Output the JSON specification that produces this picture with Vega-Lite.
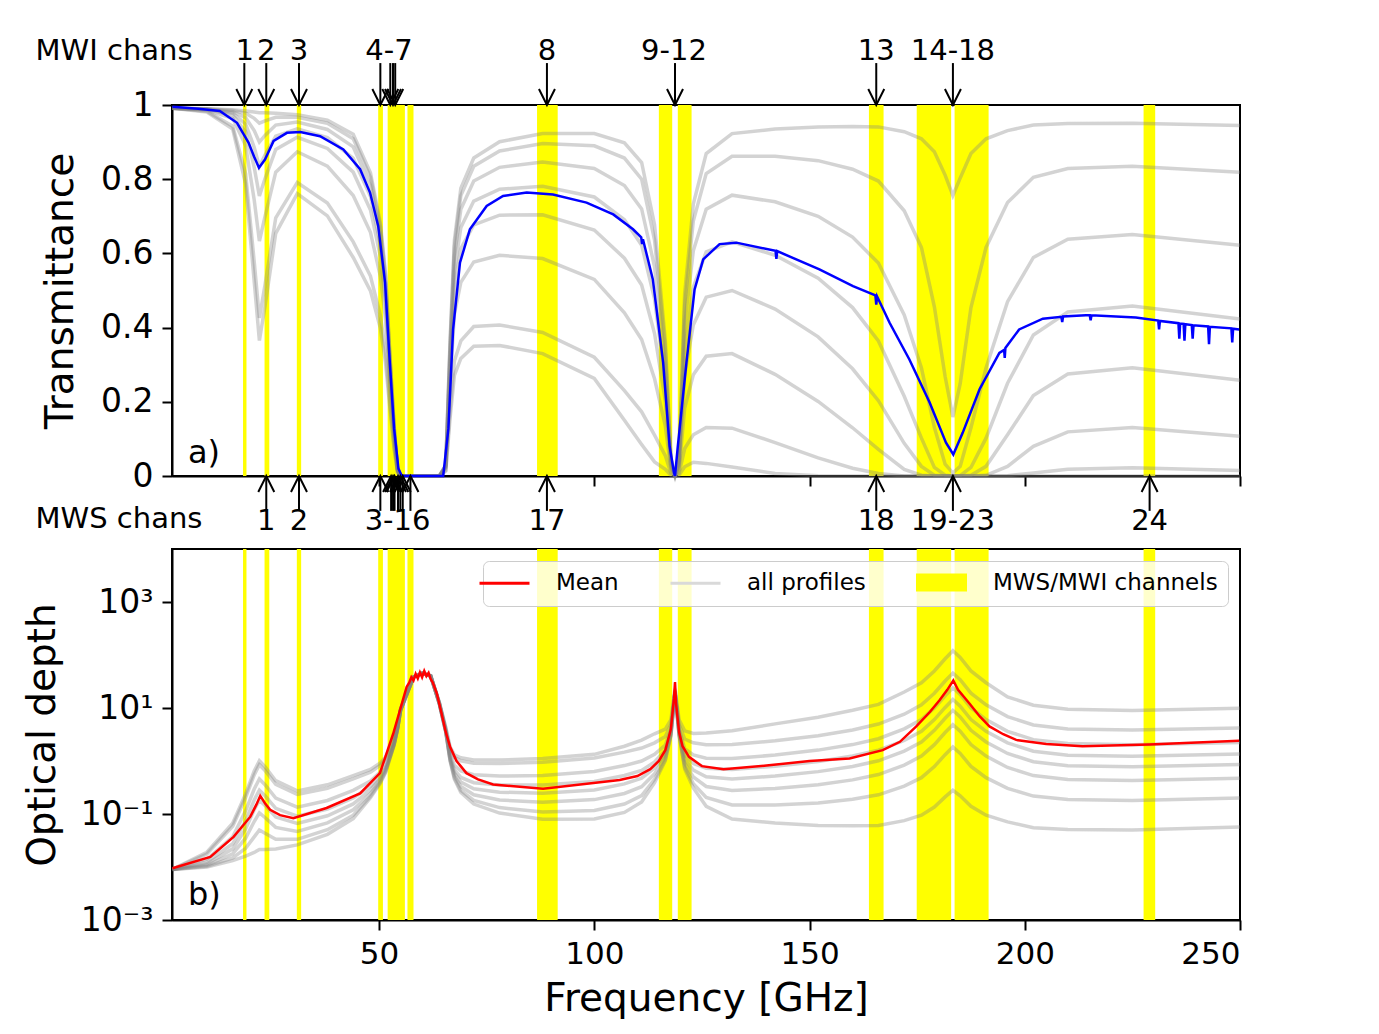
{
"$schema": "https://vega.github.io/schema/vega-lite/v6.json",
"background": "white",
"padding": {"left": 22, "top": 35, "right": 10, "bottom": 10},
"config": {
  "font": "DejaVu Sans",
  "view": {"stroke": "black", "strokeWidth": 2},
  "axis": {"domainColor": "black", "domainWidth": 2, "tickColor": "black", "tickWidth": 2, "tickSize": 10, "labelFontSize": 31, "labelColor": "black", "labelPadding": 9, "titleFontSize": 39, "titleFontWeight": "normal", "titleColor": "black", "grid": false},
  "legend": {"orient": "top-right", "offset": 12, "direction": "horizontal", "columns": 3, "labelFontSize": 23, "labelColor": "black", "labelLimit": 500, "symbolSize": 400, "symbolStrokeWidth": 3, "fillColor": "rgba(255,255,255,0.8)", "strokeColor": "#cccccc", "cornerRadius": 6, "padding": 10, "columnPadding": 45, "labelOffset": 40}
},
"resolve": {"legend": {"shape": "independent", "fill": "independent", "stroke": "independent"}},
"datasets": {
  "bands": [
    {"f": 18.4, "f2": 19.2}, {"f": 23.4, "f2": 24.5}, {"f": 30.9, "f2": 31.9}, {"f": 49.8, "f2": 50.9},
    {"f": 52.0, "f2": 56.0}, {"f": 56.6, "f2": 58.0}, {"f": 86.7, "f2": 91.5}, {"f": 115.0, "f2": 118.1},
    {"f": 119.4, "f2": 122.6}, {"f": 163.8, "f2": 167.2}, {"f": 174.9, "f2": 182.9}, {"f": 183.7, "f2": 191.6},
    {"f": 227.6, "f2": 230.3}
  ],
  "mwi": [{"f": 18.7}, {"f": 23.8}, {"f": 31.4}, {"f": 50.3}, {"f": 52.61}, {"f": 53.24}, {"f": 53.75}, {"f": 89.0}, {"f": 118.75}, {"f": 165.5}, {"f": 183.31}],
  "mwi_lab": [{"f": 18.8, "lab": "1"}, {"f": 23.8, "lab": "2"}, {"f": 31.4, "lab": "3"}, {"f": 52.3, "lab": "4-7"}, {"f": 89.0, "lab": "8"}, {"f": 118.5, "lab": "9-12"}, {"f": 165.5, "lab": "13"}, {"f": 183.3, "lab": "14-18"}],
  "mws": [{"f": 23.8}, {"f": 31.4}, {"f": 50.3}, {"f": 52.8}, {"f": 53.246}, {"f": 53.596}, {"f": 54.4}, {"f": 54.94}, {"f": 55.5}, {"f": 57.29}, {"f": 89.0}, {"f": 165.5}, {"f": 183.31}, {"f": 229.0}],
  "mws_lab": [{"f": 23.8, "lab": "1"}, {"f": 31.4, "lab": "2"}, {"f": 54.3, "lab": "3-16"}, {"f": 89.0, "lab": "17"}, {"f": 165.5, "lab": "18"}, {"f": 183.3, "lab": "19-23"}, {"f": 229.0, "lab": "24"}],
  "blue": [
    {"f": 2, "t": 0.995}, {"f": 8, "t": 0.99}, {"f": 13, "t": 0.984}, {"f": 17, "t": 0.952}, {"f": 19.7, "t": 0.898}, {"f": 21, "t": 0.86}, {"f": 22.1, "t": 0.831}, {"f": 23.5, "t": 0.853}, {"f": 25.5, "t": 0.903}, {"f": 28.6, "t": 0.925}, {"f": 31.7, "t": 0.927}, {"f": 36.3, "t": 0.916}, {"f": 41.7, "t": 0.88}, {"f": 45.6, "t": 0.827}, {"f": 47.9, "t": 0.764}, {"f": 49.8, "t": 0.674}, {"f": 51.4, "t": 0.521}, {"f": 52.5, "t": 0.305}, {"f": 53.5, "t": 0.127}, {"f": 54.5, "t": 0.02}, {"f": 55.3, "t": 0.0}, {"f": 64.9, "t": 0.0}, {"f": 66.1, "t": 0.127}, {"f": 67.2, "t": 0.395}, {"f": 68.8, "t": 0.575}, {"f": 71.1, "t": 0.665}, {"f": 75, "t": 0.728}, {"f": 78.8, "t": 0.755}, {"f": 84.3, "t": 0.764}, {"f": 90.4, "t": 0.759}, {"f": 98.2, "t": 0.737}, {"f": 104.4, "t": 0.705}, {"f": 109, "t": 0.665}, {"f": 110.9, "t": 0.643}, {"f": 111.1, "t": 0.625}, {"f": 111.3, "t": 0.638}, {"f": 113.6, "t": 0.53}, {"f": 116, "t": 0.305}, {"f": 117.5, "t": 0.08}, {"f": 118.5, "t": 0.01}, {"f": 118.75, "t": 0.0}, {"f": 119.4, "t": 0.08}, {"f": 121.4, "t": 0.305}, {"f": 123.3, "t": 0.503}, {"f": 125.3, "t": 0.584}, {"f": 129.1, "t": 0.625}, {"f": 133, "t": 0.629}, {"f": 142.1, "t": 0.607}, {"f": 142.3, "t": 0.585}, {"f": 142.5, "t": 0.606}, {"f": 152.3, "t": 0.557}, {"f": 160.1, "t": 0.512}, {"f": 165.3, "t": 0.487}, {"f": 165.5, "t": 0.462}, {"f": 165.7, "t": 0.484}, {"f": 168.6, "t": 0.413}, {"f": 173.2, "t": 0.314}, {"f": 177.9, "t": 0.198}, {"f": 181.7, "t": 0.09}, {"f": 183.4, "t": 0.058}, {"f": 185.6, "t": 0.117}, {"f": 189.5, "t": 0.234}, {"f": 194.1, "t": 0.332}, {"f": 195.2, "t": 0.34}, {"f": 195.35, "t": 0.318}, {"f": 195.5, "t": 0.345}, {"f": 198.7, "t": 0.395}, {"f": 204.2, "t": 0.424}, {"f": 208.5, "t": 0.429}, {"f": 208.7, "t": 0.415}, {"f": 208.9, "t": 0.43}, {"f": 214.2, "t": 0.433}, {"f": 215.1, "t": 0.433}, {"f": 215.3, "t": 0.42}, {"f": 215.5, "t": 0.433}, {"f": 225.8, "t": 0.427}, {"f": 231.0, "t": 0.419}, {"f": 231.2, "t": 0.395}, {"f": 231.4, "t": 0.418}, {"f": 235.7, "t": 0.412}, {"f": 235.9, "t": 0.37}, {"f": 236.1, "t": 0.411}, {"f": 236.9, "t": 0.41}, {"f": 237.1, "t": 0.365}, {"f": 237.3, "t": 0.409}, {"f": 238.8, "t": 0.407}, {"f": 239.0, "t": 0.37}, {"f": 239.2, "t": 0.406}, {"f": 242.6, "t": 0.403}, {"f": 242.8, "t": 0.355}, {"f": 243.0, "t": 0.402}, {"f": 248.0, "t": 0.398}, {"f": 248.2, "t": 0.36}, {"f": 248.4, "t": 0.397}, {"f": 249.8, "t": 0.395}
  ],
  "red": [
    {"f": 2, "d": 0.0095}, {"f": 10.8, "d": 0.0155}, {"f": 16.2, "d": 0.037}, {"f": 20.1, "d": 0.089}, {"f": 21.5, "d": 0.15}, {"f": 22.4, "d": 0.22}, {"f": 23.5, "d": 0.16}, {"f": 24.7, "d": 0.12}, {"f": 27, "d": 0.095}, {"f": 30.1, "d": 0.083}, {"f": 37.8, "d": 0.13}, {"f": 45.6, "d": 0.245}, {"f": 50.2, "d": 0.59}, {"f": 53.3, "d": 3.3}, {"f": 55, "d": 10}, {"f": 56.4, "d": 25}, {"f": 57, "d": 30}, {"f": 57.5, "d": 38}, {"f": 58, "d": 33}, {"f": 58.5, "d": 44}, {"f": 59, "d": 36}, {"f": 59.5, "d": 47}, {"f": 60, "d": 38}, {"f": 60.5, "d": 50}, {"f": 61, "d": 40}, {"f": 61.5, "d": 46}, {"f": 62, "d": 35}, {"f": 62.5, "d": 30}, {"f": 63.4, "d": 19}, {"f": 64.5, "d": 8}, {"f": 65.5, "d": 3.5}, {"f": 66.5, "d": 1.86}, {"f": 68, "d": 1.0}, {"f": 70.3, "d": 0.59}, {"f": 73, "d": 0.45}, {"f": 76.5, "d": 0.36}, {"f": 88.1, "d": 0.3}, {"f": 105.9, "d": 0.44}, {"f": 110, "d": 0.52}, {"f": 113, "d": 0.7}, {"f": 115, "d": 1.0}, {"f": 116.5, "d": 1.6}, {"f": 117.8, "d": 4}, {"f": 118.5, "d": 15}, {"f": 118.75, "d": 31}, {"f": 119, "d": 12}, {"f": 119.7, "d": 3.5}, {"f": 120.5, "d": 1.9}, {"f": 122, "d": 1.2}, {"f": 125, "d": 0.8}, {"f": 130, "d": 0.7}, {"f": 140, "d": 0.82}, {"f": 150, "d": 1.0}, {"f": 159.3, "d": 1.12}, {"f": 167, "d": 1.6}, {"f": 171, "d": 2.3}, {"f": 174.8, "d": 4.5}, {"f": 178, "d": 8.5}, {"f": 180.2, "d": 14}, {"f": 182, "d": 22}, {"f": 183.4, "d": 33}, {"f": 184.5, "d": 22}, {"f": 187.2, "d": 12}, {"f": 189.5, "d": 7}, {"f": 191.8, "d": 4.5}, {"f": 195, "d": 3.2}, {"f": 198, "d": 2.5}, {"f": 205, "d": 2.1}, {"f": 213.4, "d": 1.9}, {"f": 228.9, "d": 2.05}, {"f": 249.8, "d": 2.4}
  ],
  "legend": [{"series": "Mean", "f": 100, "d": 1e-9}, {"series": "all profiles", "f": 100, "d": 1e-9}, {"series": "MWS/MWI channels", "f": 100, "d": 1e-9}],
  "prof": [
{"f":2,"p":1,"t":0.991,"d":0.009},{"f":2,"p":2,"t":0.991,"d":0.009},{"f":2,"p":3,"t":0.991,"d":0.009},{"f":2,"p":4,"t":0.991,"d":0.009},{"f":2,"p":5,"t":0.991,"d":0.009},{"f":2,"p":6,"t":0.991,"d":0.009},{"f":2,"p":7,"t":0.991,"d":0.009},{"f":2,"p":8,"t":0.991,"d":0.009},
{"f":10,"p":1,"t":0.99,"d":0.01},{"f":10,"p":2,"t":0.99,"d":0.0103},{"f":10,"p":3,"t":0.989,"d":0.0108},{"f":10,"p":4,"t":0.989,"d":0.0115},{"f":10,"p":5,"t":0.988,"d":0.0124},{"f":10,"p":6,"t":0.986,"d":0.014},{"f":10,"p":7,"t":0.983,"d":0.0176},{"f":10,"p":8,"t":0.981,"d":0.019},
{"f":16,"p":1,"t":0.987,"d":0.0132},{"f":16,"p":2,"t":0.985,"d":0.0148},{"f":16,"p":3,"t":0.982,"d":0.0178},{"f":16,"p":4,"t":0.978,"d":0.022},{"f":16,"p":5,"t":0.973,"d":0.0274},{"f":16,"p":6,"t":0.964,"d":0.037},{"f":16,"p":7,"t":0.943,"d":0.0586},{"f":16,"p":8,"t":0.935,"d":0.067},
{"f":19,"p":1,"t":0.984,"d":0.016},{"f":19,"p":2,"t":0.978,"d":0.0225},{"f":19,"p":3,"t":0.966,"d":0.035},{"f":19,"p":4,"t":0.949,"d":0.0525},{"f":19,"p":5,"t":0.928,"d":0.075},{"f":19,"p":6,"t":0.891,"d":0.115},{"f":19,"p":7,"t":0.815,"d":0.205},{"f":19,"p":8,"t":0.787,"d":0.24},
{"f":21,"p":1,"t":0.981,"d":0.0188},{"f":21,"p":2,"t":0.964,"d":0.037},{"f":21,"p":3,"t":0.931,"d":0.072},{"f":21,"p":4,"t":0.886,"d":0.121},{"f":21,"p":5,"t":0.832,"d":0.184},{"f":21,"p":6,"t":0.744,"d":0.296},{"f":21,"p":7,"t":0.578,"d":0.548},{"f":21,"p":8,"t":0.524,"d":0.646},
{"f":22.2,"p":1,"t":0.979,"d":0.0214},{"f":22.2,"p":2,"t":0.951,"d":0.05},{"f":22.2,"p":3,"t":0.9,"d":0.105},{"f":22.2,"p":4,"t":0.834,"d":0.182},{"f":22.2,"p":5,"t":0.755,"d":0.281},{"f":22.2,"p":6,"t":0.633,"d":0.457},{"f":22.2,"p":7,"t":0.426,"d":0.853},{"f":22.2,"p":8,"t":0.365,"d":1.007},
{"f":23.5,"p":1,"t":0.979,"d":0.0214},{"f":23.5,"p":2,"t":0.957,"d":0.0435},{"f":23.5,"p":3,"t":0.918,"d":0.086},{"f":23.5,"p":4,"t":0.865,"d":0.1455},{"f":23.5,"p":5,"t":0.801,"d":0.222},{"f":23.5,"p":6,"t":0.699,"d":0.358},{"f":23.5,"p":7,"t":0.515,"d":0.664},{"f":23.5,"p":8,"t":0.457,"d":0.783},
{"f":26,"p":1,"t":0.978,"d":0.0218},{"f":26,"p":2,"t":0.967,"d":0.0335},{"f":26,"p":3,"t":0.946,"d":0.056},{"f":26,"p":4,"t":0.916,"d":0.0875},{"f":26,"p":5,"t":0.88,"d":0.128},{"f":26,"p":6,"t":0.819,"d":0.2},{"f":26,"p":7,"t":0.696,"d":0.362},{"f":26,"p":8,"t":0.654,"d":0.425},
{"f":31,"p":1,"t":0.974,"d":0.0261},{"f":31,"p":2,"t":0.967,"d":0.0333},{"f":31,"p":3,"t":0.954,"d":0.047},{"f":31,"p":4,"t":0.936,"d":0.0663},{"f":31,"p":5,"t":0.913,"d":0.091},{"f":31,"p":6,"t":0.874,"d":0.135},{"f":31,"p":7,"t":0.791,"d":0.234},{"f":31,"p":8,"t":0.761,"d":0.2725},
{"f":38,"p":1,"t":0.959,"d":0.0414},{"f":38,"p":2,"t":0.951,"d":0.0505},{"f":38,"p":3,"t":0.934,"d":0.068},{"f":38,"p":4,"t":0.912,"d":0.0925},{"f":38,"p":5,"t":0.883,"d":0.124},{"f":38,"p":6,"t":0.835,"d":0.18},{"f":38,"p":7,"t":0.736,"d":0.306},{"f":38,"p":8,"t":0.701,"d":0.355},
{"f":44,"p":1,"t":0.921,"d":0.082},{"f":44,"p":2,"t":0.909,"d":0.095},{"f":44,"p":3,"t":0.887,"d":0.12},{"f":44,"p":4,"t":0.856,"d":0.155},{"f":44,"p":5,"t":0.819,"d":0.2},{"f":44,"p":6,"t":0.756,"d":0.28},{"f":44,"p":7,"t":0.631,"d":0.46},{"f":44,"p":8,"t":0.589,"d":0.53},
{"f":48,"p":1,"t":0.817,"d":0.202},{"f":48,"p":2,"t":0.805,"d":0.2165},{"f":48,"p":3,"t":0.783,"d":0.244},{"f":48,"p":4,"t":0.754,"d":0.2825},{"f":48,"p":5,"t":0.717,"d":0.332},{"f":48,"p":6,"t":0.657,"d":0.42},{"f":48,"p":7,"t":0.539,"d":0.618},{"f":48,"p":8,"t":0.499,"d":0.695},
{"f":50.3,"p":1,"t":0.682,"d":0.382},{"f":50.3,"p":2,"t":0.672,"d":0.398},{"f":50.3,"p":3,"t":0.652,"d":0.428},{"f":50.3,"p":4,"t":0.625,"d":0.47},{"f":50.3,"p":5,"t":0.592,"d":0.524},{"f":50.3,"p":6,"t":0.538,"d":0.62},{"f":50.3,"p":7,"t":0.433,"d":0.836},{"f":50.3,"p":8,"t":0.399,"d":0.92},
{"f":51.5,"p":1,"t":0.547,"d":0.603},{"f":51.5,"p":2,"t":0.538,"d":0.62},{"f":51.5,"p":3,"t":0.521,"d":0.652},{"f":51.5,"p":4,"t":0.498,"d":0.698},{"f":51.5,"p":5,"t":0.47,"d":0.756},{"f":51.5,"p":6,"t":0.423,"d":0.86},{"f":51.5,"p":7,"t":0.335,"d":1.094},{"f":51.5,"p":8,"t":0.306,"d":1.185},
{"f":52.5,"p":1,"t":0.332,"d":1.103},{"f":52.5,"p":2,"t":0.326,"d":1.12},{"f":52.5,"p":3,"t":0.316,"d":1.152},{"f":52.5,"p":4,"t":0.302,"d":1.198},{"f":52.5,"p":5,"t":0.285,"d":1.256},{"f":52.5,"p":6,"t":0.257,"d":1.36},{"f":52.5,"p":7,"t":0.203,"d":1.594},{"f":52.5,"p":8,"t":0.185,"d":1.685},
{"f":53.5,"p":1,"t":0.135,"d":2.003},{"f":53.5,"p":2,"t":0.133,"d":2.021},{"f":53.5,"p":3,"t":0.128,"d":2.056},{"f":53.5,"p":4,"t":0.122,"d":2.105},{"f":53.5,"p":5,"t":0.114,"d":2.168},{"f":53.5,"p":6,"t":0.102,"d":2.28},{"f":53.5,"p":7,"t":0.08,"d":2.532},{"f":53.5,"p":8,"t":0.072,"d":2.63},
{"f":54.3,"p":1,"t":0.018,"d":4.003},{"f":54.3,"p":2,"t":0.018,"d":4.021},{"f":54.3,"p":3,"t":0.017,"d":4.056},{"f":54.3,"p":4,"t":0.016,"d":4.105},{"f":54.3,"p":5,"t":0.015,"d":4.168},{"f":54.3,"p":6,"t":0.014,"d":4.28},{"f":54.3,"p":7,"t":0.011,"d":4.532},{"f":54.3,"p":8,"t":0.01,"d":4.63},
{"f":55,"p":1,"t":0,"d":9.003},{"f":55,"p":2,"t":0,"d":9.023},{"f":55,"p":3,"t":0,"d":9.06},{"f":55,"p":4,"t":0,"d":9.113},{"f":55,"p":5,"t":0,"d":9.18},{"f":55,"p":6,"t":0,"d":9.3},{"f":55,"p":7,"t":0,"d":9.57},{"f":55,"p":8,"t":0,"d":9.675},
{"f":58,"p":1,"t":0,"d":38},{"f":58,"p":2,"t":0,"d":38.02},{"f":58,"p":3,"t":0,"d":38.06},{"f":58,"p":4,"t":0,"d":38.12},{"f":58,"p":5,"t":0,"d":38.19},{"f":58,"p":6,"t":0,"d":38.32},{"f":58,"p":7,"t":0,"d":38.61},{"f":58,"p":8,"t":0,"d":38.72},
{"f":60,"p":1,"t":0,"d":45},{"f":60,"p":2,"t":0,"d":45.03},{"f":60,"p":3,"t":0,"d":45.07},{"f":60,"p":4,"t":0,"d":45.13},{"f":60,"p":5,"t":0,"d":45.2},{"f":60,"p":6,"t":0,"d":45.34},{"f":60,"p":7,"t":0,"d":45.65},{"f":60,"p":8,"t":0,"d":45.77},
{"f":62,"p":1,"t":0,"d":40},{"f":62,"p":2,"t":0,"d":40.03},{"f":62,"p":3,"t":0,"d":40.07},{"f":62,"p":4,"t":0,"d":40.13},{"f":62,"p":5,"t":0,"d":40.2},{"f":62,"p":6,"t":0,"d":40.34},{"f":62,"p":7,"t":0,"d":40.65},{"f":62,"p":8,"t":0,"d":40.77},
{"f":64,"p":1,"t":0,"d":12},{"f":64,"p":2,"t":0,"d":12.03},{"f":64,"p":3,"t":0,"d":12.07},{"f":64,"p":4,"t":0,"d":12.14},{"f":64,"p":5,"t":0,"d":12.22},{"f":64,"p":6,"t":0,"d":12.36},{"f":64,"p":7,"t":0,"d":12.68},{"f":64,"p":8,"t":0,"d":12.81},
{"f":65.5,"p":1,"t":0.03,"d":3.504},{"f":65.5,"p":2,"t":0.029,"d":3.527},{"f":65.5,"p":3,"t":0.028,"d":3.572},{"f":65.5,"p":4,"t":0.026,"d":3.635},{"f":65.5,"p":5,"t":0.024,"d":3.716},{"f":65.5,"p":6,"t":0.021,"d":3.86},{"f":65.5,"p":7,"t":0.015,"d":4.184},{"f":65.5,"p":8,"t":0.013,"d":4.31},
{"f":66.5,"p":1,"t":0.366,"d":1.004},{"f":66.5,"p":2,"t":0.357,"d":1.029},{"f":66.5,"p":3,"t":0.341,"d":1.076},{"f":66.5,"p":4,"t":0.319,"d":1.143},{"f":66.5,"p":5,"t":0.293,"d":1.228},{"f":66.5,"p":6,"t":0.252,"d":1.38},{"f":66.5,"p":7,"t":0.179,"d":1.722},{"f":66.5,"p":8,"t":0.156,"d":1.855},
{"f":67.5,"p":1,"t":0.635,"d":0.454},{"f":67.5,"p":2,"t":0.619,"d":0.479},{"f":67.5,"p":3,"t":0.591,"d":0.526},{"f":67.5,"p":4,"t":0.553,"d":0.593},{"f":67.5,"p":5,"t":0.508,"d":0.678},{"f":67.5,"p":6,"t":0.436,"d":0.83},{"f":67.5,"p":7,"t":0.31,"d":1.172},{"f":67.5,"p":8,"t":0.271,"d":1.305},
{"f":69,"p":1,"t":0.776,"d":0.254},{"f":69,"p":2,"t":0.756,"d":0.28},{"f":69,"p":3,"t":0.719,"d":0.33},{"f":69,"p":4,"t":0.67,"d":0.4},{"f":69,"p":5,"t":0.613,"d":0.49},{"f":69,"p":6,"t":0.522,"d":0.65},{"f":69,"p":7,"t":0.364,"d":1.01},{"f":69,"p":8,"t":0.317,"d":1.15},
{"f":72,"p":1,"t":0.857,"d":0.154},{"f":72,"p":2,"t":0.835,"d":0.18},{"f":72,"p":3,"t":0.795,"d":0.23},{"f":72,"p":4,"t":0.741,"d":0.3},{"f":72,"p":5,"t":0.677,"d":0.39},{"f":72,"p":6,"t":0.577,"d":0.55},{"f":72,"p":7,"t":0.403,"d":0.91},{"f":72,"p":8,"t":0.35,"d":1.05},
{"f":78,"p":1,"t":0.901,"d":0.104},{"f":78,"p":2,"t":0.876,"d":0.132},{"f":78,"p":3,"t":0.832,"d":0.184},{"f":78,"p":4,"t":0.773,"d":0.258},{"f":78,"p":5,"t":0.703,"d":0.352},{"f":78,"p":6,"t":0.595,"d":0.52},{"f":78,"p":7,"t":0.407,"d":0.898},{"f":78,"p":8,"t":0.352,"d":1.045},
{"f":88,"p":1,"t":0.923,"d":0.0796},{"f":88,"p":2,"t":0.896,"d":0.1095},{"f":88,"p":3,"t":0.846,"d":0.167},{"f":88,"p":4,"t":0.781,"d":0.2475},{"f":88,"p":5,"t":0.704,"d":0.351},{"f":88,"p":6,"t":0.586,"d":0.535},{"f":88,"p":7,"t":0.387,"d":0.949},{"f":88,"p":8,"t":0.33,"d":1.11},
{"f":100,"p":1,"t":0.923,"d":0.0806},{"f":100,"p":2,"t":0.89,"d":0.117},{"f":100,"p":3,"t":0.829,"d":0.187},{"f":100,"p":4,"t":0.752,"d":0.285},{"f":100,"p":5,"t":0.663,"d":0.411},{"f":100,"p":6,"t":0.53,"d":0.635},{"f":100,"p":7,"t":0.32,"d":1.139},{"f":100,"p":8,"t":0.263,"d":1.335},
{"f":107,"p":1,"t":0.898,"d":0.107},{"f":107,"p":2,"t":0.857,"d":0.154},{"f":107,"p":3,"t":0.783,"d":0.244},{"f":107,"p":4,"t":0.691,"d":0.37},{"f":107,"p":5,"t":0.587,"d":0.532},{"f":107,"p":6,"t":0.44,"d":0.82},{"f":107,"p":7,"t":0.23,"d":1.468},{"f":107,"p":8,"t":0.15,"d":1.9},
{"f":111,"p":1,"t":0.845,"d":0.168},{"f":111,"p":2,"t":0.8,"d":0.223},{"f":111,"p":3,"t":0.72,"d":0.328},{"f":111,"p":4,"t":0.622,"d":0.475},{"f":111,"p":5,"t":0.515,"d":0.664},{"f":111,"p":6,"t":0.368,"d":1.0},{"f":111,"p":7,"t":0.173,"d":1.756},{"f":111,"p":8,"t":0.085,"d":2.47},
{"f":114,"p":1,"t":0.677,"d":0.39},{"f":114,"p":2,"t":0.636,"d":0.452},{"f":114,"p":3,"t":0.564,"d":0.572},{"f":114,"p":4,"t":0.477,"d":0.74},{"f":114,"p":5,"t":0.384,"d":0.956},{"f":114,"p":6,"t":0.262,"d":1.34},{"f":114,"p":7,"t":0.11,"d":2.204},{"f":114,"p":8,"t":0.038,"d":3.26},
{"f":116.5,"p":1,"t":0.364,"d":1.01},{"f":116.5,"p":2,"t":0.341,"d":1.075},{"f":116.5,"p":3,"t":0.301,"d":1.2},{"f":116.5,"p":4,"t":0.253,"d":1.375},{"f":116.5,"p":5,"t":0.202,"d":1.6},{"f":116.5,"p":6,"t":0.135,"d":2.0},{"f":116.5,"p":7,"t":0.055,"d":2.9},{"f":116.5,"p":8,"t":0.018,"d":4.0},
{"f":117.8,"p":1,"t":0.049,"d":3.01},{"f":117.8,"p":2,"t":0.046,"d":3.075},{"f":117.8,"p":3,"t":0.041,"d":3.2},{"f":117.8,"p":4,"t":0.034,"d":3.375},{"f":117.8,"p":5,"t":0.027,"d":3.6},{"f":117.8,"p":6,"t":0.018,"d":4.0},{"f":117.8,"p":7,"t":0.007,"d":4.9},{"f":117.8,"p":8,"t":0.002,"d":6.0},
{"f":118.75,"p":1,"t":0,"d":20.01},{"f":118.75,"p":2,"t":0,"d":20.08},{"f":118.75,"p":3,"t":0,"d":20.2},{"f":118.75,"p":4,"t":0,"d":20.38},{"f":118.75,"p":5,"t":0,"d":20.6},{"f":118.75,"p":6,"t":0,"d":21.0},{"f":118.75,"p":7,"t":0,"d":21.9},{"f":118.75,"p":8,"t":0,"d":23.0},
{"f":119.7,"p":1,"t":0.049,"d":3.01},{"f":119.7,"p":2,"t":0.046,"d":3.075},{"f":119.7,"p":3,"t":0.041,"d":3.2},{"f":119.7,"p":4,"t":0.034,"d":3.375},{"f":119.7,"p":5,"t":0.027,"d":3.6},{"f":119.7,"p":6,"t":0.018,"d":4.0},{"f":119.7,"p":7,"t":0.007,"d":4.9},{"f":119.7,"p":8,"t":0.002,"d":6.0},
{"f":121,"p":1,"t":0.492,"d":0.71},{"f":121,"p":2,"t":0.461,"d":0.775},{"f":121,"p":3,"t":0.407,"d":0.9},{"f":121,"p":4,"t":0.341,"d":1.075},{"f":121,"p":5,"t":0.273,"d":1.3},{"f":121,"p":6,"t":0.183,"d":1.7},{"f":121,"p":7,"t":0.074,"d":2.6},{"f":121,"p":8,"t":0.025,"d":3.7},
{"f":123,"p":1,"t":0.733,"d":0.31},{"f":123,"p":2,"t":0.687,"d":0.375},{"f":123,"p":3,"t":0.607,"d":0.5},{"f":123,"p":4,"t":0.509,"d":0.675},{"f":123,"p":5,"t":0.407,"d":0.9},{"f":123,"p":6,"t":0.273,"d":1.3},{"f":123,"p":7,"t":0.111,"d":2.2},{"f":123,"p":8,"t":0.037,"d":3.3},
{"f":126,"p":1,"t":0.869,"d":0.14},{"f":126,"p":2,"t":0.815,"d":0.205},{"f":126,"p":3,"t":0.719,"d":0.33},{"f":126,"p":4,"t":0.604,"d":0.505},{"f":126,"p":5,"t":0.482,"d":0.73},{"f":126,"p":6,"t":0.323,"d":1.13},{"f":126,"p":7,"t":0.131,"d":2.03},{"f":126,"p":8,"t":0.034,"d":3.38},
{"f":132,"p":1,"t":0.923,"d":0.0804},{"f":132,"p":2,"t":0.862,"d":0.148},{"f":132,"p":3,"t":0.757,"d":0.278},{"f":132,"p":4,"t":0.631,"d":0.46},{"f":132,"p":5,"t":0.5,"d":0.694},{"f":132,"p":6,"t":0.33,"d":1.11},{"f":132,"p":7,"t":0.129,"d":2.046},{"f":132,"p":8,"t":0.024,"d":3.71},
{"f":142,"p":1,"t":0.935,"d":0.0674},{"f":142,"p":2,"t":0.862,"d":0.148},{"f":142,"p":3,"t":0.739,"d":0.303},{"f":142,"p":4,"t":0.595,"d":0.52},{"f":142,"p":5,"t":0.45,"d":0.799},{"f":142,"p":6,"t":0.274,"d":1.295},{"f":142,"p":7,"t":0.09,"d":2.411},{"f":142,"p":8,"t":0.007,"d":5.02},
{"f":152,"p":1,"t":0.941,"d":0.0606},{"f":152,"p":2,"t":0.85,"d":0.162},{"f":152,"p":3,"t":0.7,"d":0.357},{"f":152,"p":4,"t":0.533,"d":0.63},{"f":152,"p":5,"t":0.375,"d":0.981},{"f":152,"p":6,"t":0.201,"d":1.605},{"f":152,"p":7,"t":0.049,"d":3.009},{"f":152,"p":8,"t":0.001,"d":6.67},
{"f":160,"p":1,"t":0.942,"d":0.06},{"f":160,"p":2,"t":0.827,"d":0.19},{"f":160,"p":3,"t":0.644,"d":0.44},{"f":160,"p":4,"t":0.454,"d":0.79},{"f":160,"p":5,"t":0.289,"d":1.24},{"f":160,"p":6,"t":0.13,"d":2.04},{"f":160,"p":7,"t":0.021,"d":3.84},{"f":160,"p":8,"t":0.0,"d":9.04},
{"f":166,"p":1,"t":0.941,"d":0.061},{"f":166,"p":2,"t":0.795,"d":0.23},{"f":166,"p":3,"t":0.574,"d":0.555},{"f":166,"p":4,"t":0.364,"d":1.01},{"f":166,"p":5,"t":0.203,"d":1.595},{"f":166,"p":6,"t":0.072,"d":2.635},{"f":166,"p":7,"t":0.007,"d":4.975},{"f":166,"p":8,"t":0.0,"d":11.7},
{"f":172,"p":1,"t":0.928,"d":0.075},{"f":172,"p":2,"t":0.715,"d":0.335},{"f":172,"p":3,"t":0.434,"d":0.835},{"f":172,"p":4,"t":0.215,"d":1.535},{"f":172,"p":5,"t":0.088,"d":2.435},{"f":172,"p":6,"t":0.018,"d":4.035},{"f":172,"p":7,"t":0.0,"d":7.635},{"f":172,"p":8,"t":0.0,"d":20.0},
{"f":176,"p":1,"t":0.909,"d":0.095},{"f":176,"p":2,"t":0.616,"d":0.485},{"f":176,"p":3,"t":0.291,"d":1.235},{"f":176,"p":4,"t":0.102,"d":2.285},{"f":176,"p":5,"t":0.026,"d":3.635},{"f":176,"p":6,"t":0.002,"d":6.035},{"f":176,"p":7,"t":0.0,"d":11.44},{"f":176,"p":8,"t":0.0,"d":30.0},
{"f":179,"p":1,"t":0.874,"d":0.135},{"f":179,"p":2,"t":0.456,"d":0.785},{"f":179,"p":3,"t":0.131,"d":2.035},{"f":179,"p":4,"t":0.023,"d":3.785},{"f":179,"p":5,"t":0.002,"d":6.035},{"f":179,"p":6,"t":0.0,"d":10.04},{"f":179,"p":7,"t":0.0,"d":19.04},{"f":179,"p":8,"t":0.0,"d":50.0},
{"f":181.5,"p":1,"t":0.811,"d":0.21},{"f":181.5,"p":2,"t":0.268,"d":1.315},{"f":181.5,"p":3,"t":0.032,"d":3.44},{"f":181.5,"p":4,"t":0.002,"d":6.415},{"f":181.5,"p":5,"t":0.0,"d":10.24},{"f":181.5,"p":6,"t":0.0,"d":17.04},{"f":181.5,"p":7,"t":0.0,"d":32.34},{"f":181.5,"p":8,"t":0.0,"d":85.0},
{"f":183.3,"p":1,"t":0.756,"d":0.28},{"f":183.3,"p":2,"t":0.159,"d":1.84},{"f":183.3,"p":3,"t":0.008,"d":4.84},{"f":183.3,"p":4,"t":0.0,"d":9.04},{"f":183.3,"p":5,"t":0.0,"d":14.44},{"f":183.3,"p":6,"t":0.0,"d":24.04},{"f":183.3,"p":7,"t":0.0,"d":45.64},{"f":183.3,"p":8,"t":0.0,"d":120.0},
{"f":185,"p":1,"t":0.803,"d":0.22},{"f":185,"p":2,"t":0.249,"d":1.39},{"f":185,"p":3,"t":0.026,"d":3.64},{"f":185,"p":4,"t":0.001,"d":6.79},{"f":185,"p":5,"t":0.0,"d":10.84},{"f":185,"p":6,"t":0.0,"d":18.04},{"f":185,"p":7,"t":0.0,"d":34.24},{"f":185,"p":8,"t":0.0,"d":90.0},
{"f":187.5,"p":1,"t":0.869,"d":0.14},{"f":187.5,"p":2,"t":0.454,"d":0.79},{"f":187.5,"p":3,"t":0.13,"d":2.04},{"f":187.5,"p":4,"t":0.023,"d":3.79},{"f":187.5,"p":5,"t":0.002,"d":6.04},{"f":187.5,"p":6,"t":0.0,"d":10.04},{"f":187.5,"p":7,"t":0.0,"d":19.04},{"f":187.5,"p":8,"t":0.0,"d":50.0},
{"f":191,"p":1,"t":0.909,"d":0.095},{"f":191,"p":2,"t":0.616,"d":0.485},{"f":191,"p":3,"t":0.291,"d":1.235},{"f":191,"p":4,"t":0.102,"d":2.285},{"f":191,"p":5,"t":0.026,"d":3.635},{"f":191,"p":6,"t":0.002,"d":6.035},{"f":191,"p":7,"t":0.0,"d":11.44},{"f":191,"p":8,"t":0.0,"d":30.0},
{"f":196,"p":1,"t":0.931,"d":0.071},{"f":196,"p":2,"t":0.737,"d":0.305},{"f":196,"p":3,"t":0.47,"d":0.755},{"f":196,"p":4,"t":0.25,"d":1.385},{"f":196,"p":5,"t":0.111,"d":2.195},{"f":196,"p":6,"t":0.026,"d":3.635},{"f":196,"p":7,"t":0.001,"d":6.875},{"f":196,"p":8,"t":0.0,"d":16.2},
{"f":202,"p":1,"t":0.946,"d":0.055},{"f":202,"p":2,"t":0.805,"d":0.2175},{"f":202,"p":3,"t":0.589,"d":0.53},{"f":202,"p":4,"t":0.38,"d":0.9675},{"f":202,"p":5,"t":0.217,"d":1.53},{"f":202,"p":6,"t":0.08,"d":2.53},{"f":202,"p":7,"t":0.008,"d":4.78},{"f":202,"p":8,"t":0.0,"d":11.3},
{"f":210,"p":1,"t":0.95,"d":0.051},{"f":210,"p":2,"t":0.829,"d":0.1875},{"f":210,"p":3,"t":0.638,"d":0.45},{"f":210,"p":4,"t":0.442,"d":0.8175},{"f":210,"p":5,"t":0.275,"d":1.29},{"f":210,"p":6,"t":0.119,"d":2.13},{"f":210,"p":7,"t":0.018,"d":4.02},{"f":210,"p":8,"t":0.0,"d":9.5},
{"f":225,"p":1,"t":0.951,"d":0.05},{"f":225,"p":2,"t":0.835,"d":0.18},{"f":225,"p":3,"t":0.651,"d":0.43},{"f":225,"p":4,"t":0.458,"d":0.78},{"f":225,"p":5,"t":0.292,"d":1.23},{"f":225,"p":6,"t":0.131,"d":2.03},{"f":225,"p":7,"t":0.022,"d":3.83},{"f":225,"p":8,"t":0.0,"d":9.0},
{"f":250,"p":1,"t":0.945,"d":0.057},{"f":250,"p":2,"t":0.819,"d":0.2},{"f":250,"p":3,"t":0.622,"d":0.475},{"f":250,"p":4,"t":0.423,"d":0.86},{"f":250,"p":5,"t":0.258,"d":1.355},{"f":250,"p":6,"t":0.107,"d":2.235},{"f":250,"p":7,"t":0.015,"d":4.215},{"f":250,"p":8,"t":0.0,"d":9.9}
  ]
},
"spacing": 73,
"bounds": "flush",
"vconcat": [
  {
    "width": 1068, "height": 371,
    "layer": [
      {"data": {"name": "bands"}, "mark": {"type": "rect", "color": "#ffff00"},
       "encoding": {"x": {"field": "f", "type": "quantitative", "scale": {"domain": [1.9, 250], "nice": false, "zero": false}, "axis": {"values": [50, 100, 150, 200, 250], "labels": false, "title": null}}, "x2": {"field": "f2"}}},
      {"data": {"name": "prof"}, "mark": {"type": "line", "color": "#808080", "strokeWidth": 3.5, "opacity": 0.35},
       "encoding": {"x": {"field": "f", "type": "quantitative"},
                    "y": {"field": "t", "type": "quantitative", "scale": {"domain": [0, 1], "nice": false, "zero": false}, "axis": {"values": [0, 0.2, 0.4, 0.6, 0.8, 1], "labelExpr": "datum.value == 0 ? '0' : datum.value == 1 ? '1' : format(datum.value, '.1f')", "title": "Transmittance", "titlePadding": 20, "labelFontSize": 33}},
                    "detail": {"field": "p", "type": "nominal"}}},
      {"data": {"name": "blue"}, "mark": {"type": "line", "color": "#0000ff", "strokeWidth": 2.5},
       "encoding": {"x": {"field": "f", "type": "quantitative"}, "y": {"field": "t", "type": "quantitative"}}},
      {"data": {"name": "mwi"}, "mark": {"type": "rule", "color": "black", "strokeWidth": 2},
       "encoding": {"x": {"field": "f", "type": "quantitative"}, "y": {"datum": 1.0, "type": "quantitative"}, "y2": {"datum": 1.113}}},
      {"data": {"name": "mwi"}, "mark": {"type": "point", "shape": "M-1,-2L0,0L1,-2", "size": 256, "filled": false, "color": "black", "strokeWidth": 2, "opacity": 1},
       "encoding": {"x": {"field": "f", "type": "quantitative"}, "y": {"datum": 1.0, "type": "quantitative"}}},
      {"data": {"name": "mwi_lab"}, "mark": {"type": "text", "fontSize": 29, "align": "center", "baseline": "middle", "color": "black"},
       "encoding": {"x": {"field": "f", "type": "quantitative"}, "y": {"datum": 1.1456, "type": "quantitative"}, "text": {"field": "lab"}}},
      {"data": {"values": [{"lab": "MWI chans"}]}, "mark": {"type": "text", "fontSize": 29, "align": "left", "baseline": "middle", "color": "black"},
       "encoding": {"x": {"datum": -29.8, "type": "quantitative"}, "y": {"datum": 1.1456, "type": "quantitative"}, "text": {"field": "lab"}}},
      {"data": {"name": "mws"}, "mark": {"type": "rule", "color": "black", "strokeWidth": 2},
       "encoding": {"x": {"field": "f", "type": "quantitative"}, "y": {"datum": 0.0, "type": "quantitative"}, "y2": {"datum": -0.094}}},
      {"data": {"name": "mws"}, "mark": {"type": "point", "shape": "M-1,2L0,0L1,2", "size": 256, "filled": false, "color": "black", "strokeWidth": 2, "opacity": 1},
       "encoding": {"x": {"field": "f", "type": "quantitative"}, "y": {"datum": 0.0, "type": "quantitative"}}},
      {"data": {"name": "mws_lab"}, "mark": {"type": "text", "fontSize": 29, "align": "center", "baseline": "middle", "color": "black"},
       "encoding": {"x": {"field": "f", "type": "quantitative"}, "y": {"datum": -0.121, "type": "quantitative"}, "text": {"field": "lab"}}},
      {"data": {"values": [{"lab": "MWS chans"}]}, "mark": {"type": "text", "fontSize": 29, "align": "left", "baseline": "middle", "color": "black"},
       "encoding": {"x": {"datum": -29.8, "type": "quantitative"}, "y": {"datum": -0.116, "type": "quantitative"}, "text": {"field": "lab"}}},
      {"data": {"values": [{"lab": "a)"}]}, "mark": {"type": "text", "fontSize": 32, "align": "left", "baseline": "middle", "color": "black"},
       "encoding": {"x": {"datum": 5.6, "type": "quantitative"}, "y": {"datum": 0.062, "type": "quantitative"}, "text": {"field": "lab"}}}
    ]
  },
  {
    "width": 1068, "height": 371,
    "layer": [
      {"data": {"name": "bands"}, "mark": {"type": "rect", "color": "#ffff00"},
       "encoding": {"x": {"field": "f", "type": "quantitative", "scale": {"domain": [1.9, 250], "nice": false, "zero": false}, "axis": {"values": [50, 100, 150, 200, 250], "title": "Frequency [GHz]", "titlePadding": 10}}, "x2": {"field": "f2"}}},
      {"data": {"name": "prof"}, "mark": {"type": "line", "color": "#808080", "strokeWidth": 3.5, "opacity": 0.35},
       "encoding": {"x": {"field": "f", "type": "quantitative"},
                    "y": {"field": "d", "type": "quantitative", "scale": {"type": "log", "domain": [0.001, 10000], "nice": false}, "axis": {"values": [0.001, 0.1, 10, 1000], "labelExpr": "datum.value >= 1000 ? '10³' : datum.value >= 10 ? '10¹' : datum.value >= 0.1 ? '10⁻¹' : '10⁻³'", "title": "Optical depth", "titlePadding": 18, "labelFontSize": 33}},
                    "detail": {"field": "p", "type": "nominal"}}},
      {"data": {"name": "red"}, "mark": {"type": "line", "color": "#ff0000", "strokeWidth": 2.5},
       "encoding": {"x": {"field": "f", "type": "quantitative"}, "y": {"field": "d", "type": "quantitative"}}},
      {"data": {"name": "legend"}, "mark": {"type": "point", "filled": true, "strokeWidth": 3, "size": 400, "clip": true, "opacity": 1},
       "encoding": {"x": {"field": "f", "type": "quantitative"},
                    "y": {"field": "d", "type": "quantitative"},
                    "shape": {"field": "series", "type": "nominal", "scale": {"domain": ["Mean", "all profiles", "MWS/MWI channels"], "range": ["M-2.5,0H2.5", "M-2.5,0H2.5", "M-2.4,-0.75H2.4V0.75H-2.4Z"]}, "legend": {"title": null}},
                    "fill": {"field": "series", "type": "nominal", "scale": {"domain": ["Mean", "all profiles", "MWS/MWI channels"], "range": ["transparent", "transparent", "#ffff00"]}, "legend": {"title": null}},
                    "stroke": {"field": "series", "type": "nominal", "scale": {"domain": ["Mean", "all profiles", "MWS/MWI channels"], "range": ["#ff0000", "#d9d9d9", "#ffff00"]}, "legend": {"title": null}}}},
      {"data": {"values": [{"lab": "b)"}]}, "mark": {"type": "text", "fontSize": 32, "align": "left", "baseline": "middle", "color": "black"},
       "encoding": {"x": {"datum": 5.6, "type": "quantitative"}, "y": {"datum": 0.003, "type": "quantitative"}, "text": {"field": "lab"}}}
    ]
  }
]
}
